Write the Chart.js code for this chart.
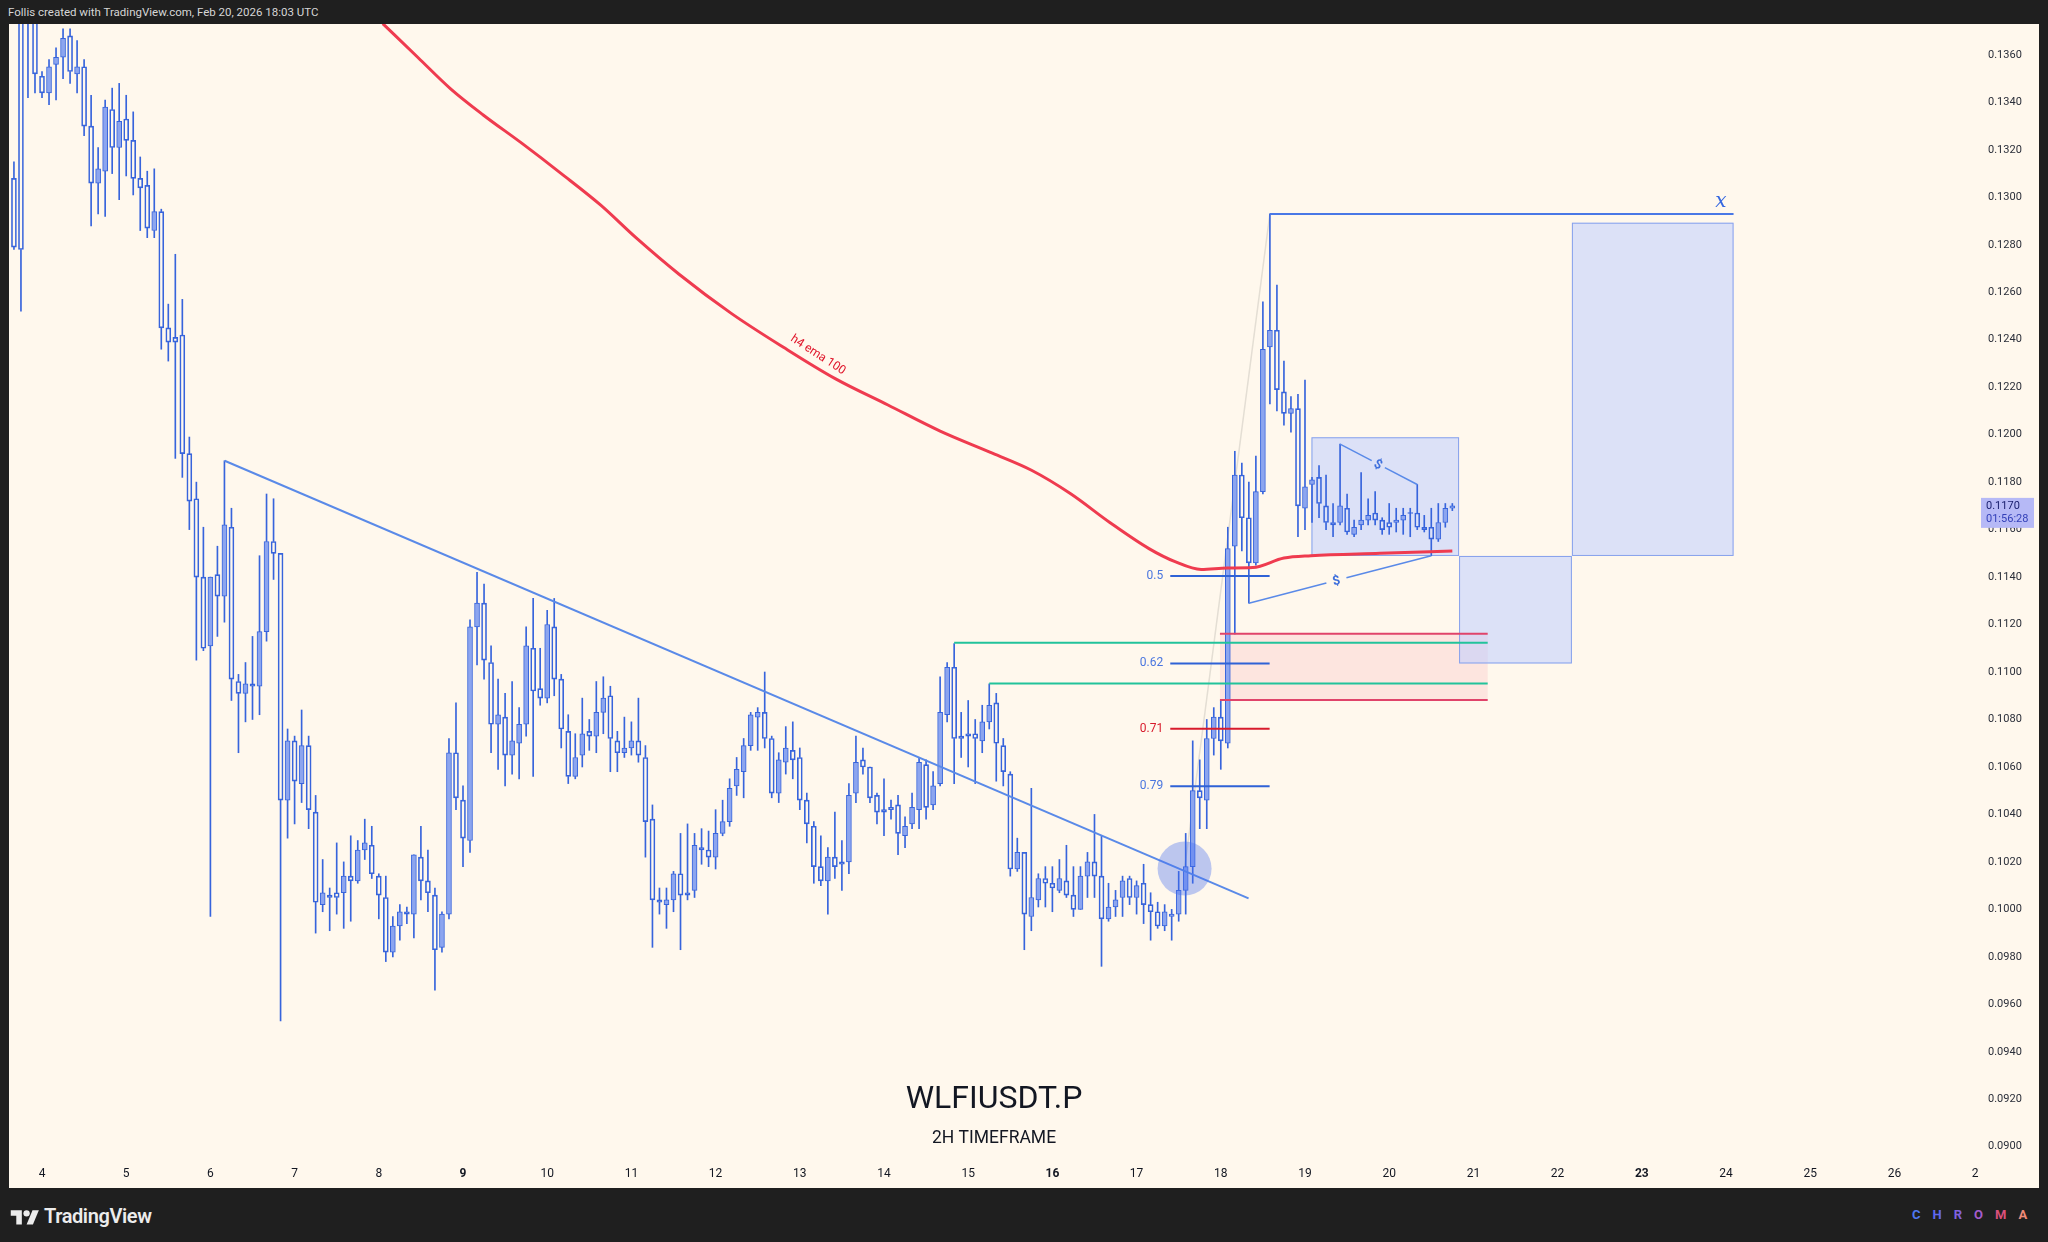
<!DOCTYPE html>
<html>
<head>
<meta charset="utf-8">
<script src="https://cdn.jsdelivr.net/npm/chart.js@4.4.1/dist/chart.umd.min.js"></script>
<style>
  html, body { margin: 0; padding: 0; }
  body { width: 2048px; height: 1242px; background: #1f1f1f; position: relative; overflow: hidden; font-family: Roboto, 'Noto Sans', sans-serif; }
  #hdr { position: absolute; left: 8px; top: 5px; font-size: 11.5px; color: #d6d6d6; }
  #wrap { position: absolute; left: 9px; top: 24px; width: 2030px; height: 1164px; background: #fff8ed; }
  #logo { position: absolute; left: 10px; top: 1204px; display: flex; align-items: center; color: #ececec; font-size: 20px; font-weight: 600; letter-spacing: -0.4px; }
  #logo svg { margin-right: 4px; }
  #chroma { position: absolute; left: 1912px; top: 1207px; font-size: 13px; font-weight: 700; letter-spacing: 12px; }
</style>
</head>
<body>
<div id="hdr">Follis created with TradingView.com, Feb 20, 2026 18:03 UTC</div>
<div id="wrap"><canvas id="chart" width="2030" height="1164"></canvas></div>
<div id="logo">
  <svg width="30" height="19" viewBox="0 0 36 24"><path d="M14 22H7V11H0V4h14v18z" fill="#ececec"/><circle cx="20" cy="8" r="4" fill="#ececec"/><path d="M28 22h-8l7.5-18h8L28 22z" fill="#ececec"/></svg>
  <span>TradingView</span>
</div>
<div id="chroma"><span style="color:#4f78f0">C</span><span style="color:#6169ee">H</span><span style="color:#8062e0">R</span><span style="color:#a45ccc">O</span><span style="color:#d9507a">M</span><span style="color:#ef8a78">A</span></div>

<script>
/* WLFIUSDT.P 2H candles, Feb 3 16:00 -> Feb 20 18:00 UTC */
const START_DAY = 3 + 8 / 12;
const BAR_DAYS  = 1 / 12;

const OPEN = [
  .1308,.1395,.1400,.1385,.1351,.1344,.1356,.1359,.1368,.1352,
  .1355,.1330,.1306,.1311,.1337,.1321,.1333,.1324,.1308,.1305,
  .1286,.1294,.1245,.1241,.1242,.1192,.1173,.1140,.1111,.1141,
  .1132,.1161,.1096,.1091,.1095,.1094,.1117,.1155,.1150,.1046,
  .1071,.1053,.1069,.1041,.1002,.1006,.1007,.1007,.1014,.1012,
  .1025,.1027,.1014,.1005,.0982,.0993,.0999,.0998,.1022,.1012,
  .1006,.0984,.0998,.1066,.1046,.1029,.1119,.1129,.1104,.1078,
  .1081,.1065,.1070,.1078,.1110,.1093,.1089,.1119,.1097,.1075,
  .1056,.1065,.1075,.1073,.1083,.1090,.1071,.1066,.1068,.1071,
  .1064,.1038,.1004,.1002,.1004,.1015,.1007,.1008,.1026,.1025,
  .1022,.1032,.1037,.1052,.1058,.1069,.1081,.1083,.1072,.1049,
  .1062,.1067,.1064,.1046,.1035,.1018,.1012,.1022,.1020,.1020,
  .1049,.1063,.1060,.1048,.1042,.1043,.1044,.1031,.1036,.1042,
  .1061,.1044,.1053,.1082,.1102,.1073,.1074,.1074,.1071,.1079,
  .1087,.1069,.1057,.1017,.1024,.0997,.1004,.1013,.1011,.1008,
  .1012,.1006,.1000,.1014,.1020,.1014,.0996,.1001,.1005,.1013,
  .1005,.1011,.1002,.0999,.0993,.0997,.0998,.1008,.1018,.1050,
  .1046,.1072,.1081,.1070,.1153,.1183,.1165,.1146,.1176,.1237,
  .1244,.1218,.1209,.1211,.1169,.1179,.1182,.1170,.1163,.1163,
  .1169,.1158,.1162,.1164,.1167,.1164,.1163,.1163,.1164,.1167,
  .1167,.1161,.1161,.1156,.1163,.1169
];
const HIGH = [
  .1315,.1400,.1410,.1390,.1353,.1358,.1363,.1371,.1371,.1366,
  .1358,.1343,.1321,.1341,.1346,.1348,.1343,.1336,.1317,.1311,
  .1312,.1295,.1255,.1276,.1257,.1199,.1180,.1161,.1140,.1153,
  .1189,.1169,.1099,.1104,.1115,.1149,.1175,.1173,.1150,.1076,
  .1073,.1084,.1073,.1048,.1021,.1009,.1028,.1020,.1031,.1029,
  .1038,.1035,.1015,.1014,.0997,.1002,.1001,.1023,.1035,.1025,
  .1009,.0999,.1072,.1087,.1052,.1122,.1142,.1137,.1111,.1097,
  .1091,.1096,.1085,.1119,.1131,.1110,.1126,.1131,.1099,.1082,
  .1074,.1089,.1080,.1096,.1098,.1094,.1075,.1081,.1079,.1089,
  .1069,.1044,.1009,.1009,.1016,.1032,.1036,.1032,.1034,.1033,
  .1042,.1046,.1055,.1064,.1072,.1083,.1085,.1100,.1073,.1066,
  .1077,.1079,.1068,.1049,.1037,.1031,.1026,.1041,.1029,.1053,
  .1073,.1068,.1060,.1049,.1055,.1046,.1048,.1039,.1049,.1064,
  .1063,.1058,.1098,.1104,.1112,.1083,.1088,.1080,.1086,.1095,
  .1091,.1072,.1058,.1030,.1024,.1051,.1015,.1018,.1018,.1021,
  .1027,.1018,.1018,.1024,.1040,.1031,.1011,.1008,.1014,.1014,
  .1012,.1019,.1007,.1003,.1002,.1000,.1016,.1032,.1071,.1063,
  .1080,.1085,.1088,.1161,.1193,.1188,.1180,.1191,.1256,.1293,
  .1263,.1231,.1216,.1217,.1223,.1182,.1187,.1183,.1171,.1196,
  .1175,.1164,.1184,.1173,.1176,.1165,.1171,.1169,.1169,.1169,
  .1179,.1166,.1169,.1171,.1171,.1171
];
const LOW = [
  .1278,.1252,.1342,.1344,.1342,.1339,.1341,.1350,.1348,.1344,
  .1326,.1288,.1293,.1292,.1310,.1299,.1309,.1301,.1286,.1283,
  .1283,.1236,.1231,.1190,.1182,.1160,.1105,.1109,.0997,.1115,
  .1121,.1088,.1066,.1079,.1080,.1082,.1113,.1139,.0953,.1030,
  .1036,.1045,.1034,.0990,.0999,.0991,.0998,.0992,.0995,.1011,
  .1021,.1013,.0996,.0978,.0980,.0987,.0994,.0988,.1004,.0999,
  .0966,.0982,.0996,.1042,.1018,.1024,.1103,.1097,.1066,.1059,
  .1052,.1057,.1055,.1073,.1056,.1086,.1087,.1090,.1068,.1053,
  .1055,.1060,.1067,.1066,.1074,.1058,.1058,.1064,.1065,.1062,
  .1022,.0984,.0998,.0992,.0999,.0983,.1004,.1005,.1019,.1018,
  .1017,.1031,.1035,.1048,.1047,.1067,.1067,.1068,.1047,.1045,
  .1057,.1055,.1042,.1028,.1011,.1010,.0998,.1013,.1008,.1015,
  .1045,.1057,.1045,.1036,.1031,.1038,.1023,.1026,.1034,.1034,
  .1038,.1042,.1052,.1079,.1053,.1064,.1060,.1053,.1066,.1076,
  .1054,.1052,.1014,.1016,.0983,.0991,.1001,.1001,.0999,.1007,
  .1005,.0997,.1000,.1005,.1005,.0976,.0995,.0997,.0997,.1002,
  .0998,.0994,.0987,.0992,.0991,.0987,.0995,.0998,.1011,.1034,
  .1034,.1065,.1059,.1068,.1116,.1151,.1129,.1145,.1175,.1213,
  .1210,.1204,.1201,.1157,.1160,.1163,.1165,.1160,.1157,.1162,
  .1158,.1157,.1160,.1162,.1162,.1158,.1158,.1159,.1158,.1157,
  .1160,.1159,.1149,.1155,.1161,.1168
];
const CLOSE = [
  .1279,.1278,.1392,.1352,.1344,.1355,.1359,.1367,.1353,.1355,
  .1330,.1306,.1312,.1338,.1321,.1332,.1324,.1308,.1304,.1287,
  .1294,.1245,.1239,.1239,.1192,.1172,.1140,.1110,.1140,.1132,
  .1162,.1097,.1091,.1095,.1094,.1117,.1155,.1150,.1046,.1071,
  .1054,.1069,.1042,.1003,.1007,.1005,.1005,.1014,.1012,.1025,
  .1028,.1015,.1006,.0982,.0993,.0999,.0998,.1023,.1012,.1007,
  .0983,.0998,.1066,.1047,.1030,.1119,.1129,.1105,.1078,.1082,
  .1065,.1071,.1078,.1111,.1092,.1089,.1120,.1097,.1076,.1056,
  .1064,.1074,.1073,.1083,.1089,.1072,.1066,.1068,.1071,.1065,
  .1037,.1004,.1003,.1004,.1015,.1006,.1006,.1027,.1025,.1022,
  .1032,.1037,.1051,.1059,.1069,.1082,.1083,.1072,.1049,.1063,
  .1068,.1063,.1046,.1036,.1018,.1012,.1022,.1018,.1019,.1048,
  .1062,.1060,.1047,.1041,.1041,.1042,.1032,.1035,.1043,.1062,
  .1043,.1052,.1083,.1102,.1072,.1072,.1073,.1072,.1079,.1086,
  .1070,.1058,.1017,.1024,.0998,.1005,.1013,.1011,.1009,.1013,
  .1006,.1000,.1014,.1020,.1014,.0996,.1001,.1004,.1012,.1005,
  .1010,.1002,.0999,.0993,.0999,.0998,.1008,.1018,.1050,.1047,
  .1072,.1081,.1071,.1152,.1183,.1165,.1146,.1176,.1236,.1244,
  .1219,.1209,.1211,.1170,.1178,.1181,.1171,.1163,.1162,.1170,
  .1159,.1161,.1164,.1166,.1164,.1160,.1161,.1164,.1166,.1167,
  .1161,.1160,.1156,.1163,.1169,.1170
];

/* h4 ema 100 (day, price) */
const EMA_DAY = [8.047, 8.465, 8.853, 9.240, 9.705, 10.171, 10.636, 11.054, 11.566, 12.186, 12.806, 13.426,
                 14.047, 14.667, 15.287, 15.752, 16.217, 16.682, 17.147, 17.457, 17.767, 18.078, 18.38, 18.75, 19.07, 19.89, 20.75];
const EMA_VAL = [.13732, .13589, .13457, .13347, .13226, .13099, .12967, .12830, .12676, .12511, .12368, .12235,
                 .12125, .12015, .11922, .11850, .11751, .11630, .11520, .11465, .11432, .11438, .1144, .1148, .1149, .1150, .1151];

/* axis ticks */
const DAY_TICKS = [4, 5, 6, 7, 8, 9, 10, 11, 12, 13, 14, 15, 16, 17, 18, 19, 20, 21, 22, 23, 24, 25, 26, 27];
const WEEK_START_DAYS = [9, 16, 23];
const PRICE_TICKS = [.0900, .0920, .0940, .0960, .0980, .1000, .1020, .1040, .1060, .1080, .1100, .1120,
                     .1140, .1160, .1180, .1200, .1220, .1240, .1260, .1280, .1300, .1320, .1340, .1360];
const X_MIN = 3.608, X_MAX = 27.005;
const Y_MIN = 0.089651, Y_MAX = 0.137302;

/* drawings (day, price) */
const TREND      = [[6.169, .1189], [18.33, .10046]];
const FIB_NAMES  = ['0.5', '0.62', '0.71', '0.79'];
const FIB_LEVELS = [.11405, .11036, .10761, .10519];
const FIB_SPAN   = [17.40, 18.58];
const ZONE       = { d0: 17.99, d1: 21.17, lo: .10882, hi: .11161 };
const GREEN_LEVELS = [.11123, .10952];
const GREEN_START  = [14.833, 15.25];
const TOP_LINE   = { d0: 18.583, d1: 24.09, p: .1293 };
const BOXES = [
  { d0: 19.077, d1: 20.83, lo: .11489, hi: .11989 },
  { d0: 22.17,  d1: 24.09, lo: .11489, hi: .12893 },
  { d0: 20.83,  d1: 22.17, lo: .11036, hi: .11489 },
];
const DOLLAR_LINES = [
  { a: [19.417, .1196], b: [20.333, .1179], gap: [0.41, 0.58] },
  { a: [18.333, .1129], b: [20.5, .1149],   gap: [0.425, 0.535] },
];
const CIRCLE     = { d: 17.57, p: .10172 };
const GREY_LINE  = [[17.57, .10172], [18.583, .1293]];
const EMA_LABEL  = { d: 13.216, p: .12336, text: 'h4 ema 100' };
const X_LABEL    = { d: 23.94, p: .1293 };
const LAST_PRICE = .1170;
const COUNTDOWN  = '01:56:28';
const SYMBOL = 'WLFIUSDT.P';
const TIMEFRAME = '2H TIMEFRAME';

/* colours */
const PANE_BG = '#fff8ed';
const CANDLE  = '#3764dc';
const UP_FILL = '#8ca5ef';
const TL_BLUE = '#5a8ae8';
const FIB_BLUE = '#2f62d6';
const FIB_RED  = '#d81b2c';
const ZONE_RED = '#e0436a';
const GREEN    = '#22c39b';

const dayOf = i => START_DAY + i * BAR_DAYS;
const MIN_BODY = 0.00004;

const bodies = OPEN.map((o, i) => {
  let lo = Math.min(o, CLOSE[i]), hi = Math.max(o, CLOSE[i]);
  if (hi - lo < MIN_BODY) { lo -= MIN_BODY / 2; hi += MIN_BODY / 2; }
  return { x: dayOf(i), y: [lo, hi] };
});
const upperWicks = OPEN.map((o, i) => ({ x: dayOf(i), y: [Math.max(o, CLOSE[i]), HIGH[i]] }));
const lowerWicks = OPEN.map((o, i) => ({ x: dayOf(i), y: [LOW[i], Math.min(o, CLOSE[i])] }));
const bodyFill = OPEN.map((o, i) => CLOSE[i] > o ? UP_FILL : 'rgba(0,0,0,0)');

const pt = p => ({ x: p[0], y: p[1] });
function lineDs(points, color, width, extra) {
  return Object.assign({ type: 'line', data: points, borderColor: color, borderWidth: width,
    pointRadius: 0, fill: false, tension: 0 }, extra || {});
}
function splitLine(l) {
  const at = t => ({ x: l.a[0] + (l.b[0] - l.a[0]) * t, y: l.a[1] + (l.b[1] - l.a[1]) * t });
  return [[at(0), at(l.gap[0])], [at(l.gap[1]), at(1)]];
}

const lineSets = [
  lineDs(EMA_DAY.map((d, i) => ({ x: d, y: EMA_VAL[i] })), '#ef3b4f', 3, { cubicInterpolationMode: 'monotone' }),
  lineDs(TREND.map(pt), TL_BLUE, 2),
  ...FIB_LEVELS.map((lv, k) => lineDs([{ x: FIB_SPAN[0], y: lv }, { x: FIB_SPAN[1], y: lv }], k === 2 ? FIB_RED : FIB_BLUE, 2)),
  lineDs([{ x: ZONE.d0, y: ZONE.hi }, { x: ZONE.d1, y: ZONE.hi }], ZONE_RED, 2),
  lineDs([{ x: ZONE.d0, y: ZONE.lo }, { x: ZONE.d1, y: ZONE.lo }], ZONE_RED, 2),
  ...GREEN_LEVELS.map((lv, k) => lineDs([{ x: GREEN_START[k], y: lv }, { x: ZONE.d1, y: lv }], GREEN, 2)),
  lineDs([{ x: TOP_LINE.d0, y: TOP_LINE.p }, { x: TOP_LINE.d1, y: TOP_LINE.p }], '#4a78e6', 2),
  ...DOLLAR_LINES.flatMap(l => splitLine(l).map(s => lineDs(s, TL_BLUE, 1.5))),
];

const barBase = { type: 'bar', grouped: false, borderSkipped: false };

/* -------- DRAWINGS PLUGIN -------- */
const drawings = {
  id: 'drawings',
  beforeDatasetsDraw(chart) {
    const { ctx, chartArea: a, scales: { x, y } } = chart;
    ctx.save();
    ctx.beginPath(); ctx.rect(a.left, a.top, a.width, a.height); ctx.clip();

    ctx.fillStyle = '#131722'; ctx.textAlign = 'center'; ctx.textBaseline = 'middle';
    ctx.font = '32px Roboto';
    ctx.fillText(SYMBOL, a.left + a.width / 2, a.bottom - 55);
    ctx.font = '17.5px Roboto';
    ctx.fillText(TIMEFRAME, a.left + a.width / 2, a.bottom - 16);

    const rect = (d0, d1, lo, hi, fill, stroke) => {
      const x0 = x.getPixelForValue(d0), x1 = x.getPixelForValue(d1);
      const y0 = y.getPixelForValue(hi), y1 = y.getPixelForValue(lo);
      ctx.fillStyle = fill; ctx.fillRect(x0, y0, x1 - x0, y1 - y0);
      if (stroke) { ctx.strokeStyle = stroke; ctx.lineWidth = 1; ctx.strokeRect(x0 + 0.5, y0 + 0.5, x1 - x0 - 1, y1 - y0 - 1); }
    };
    rect(ZONE.d0, ZONE.d1, ZONE.lo, ZONE.hi, '#fde5df', null);
    BOXES.forEach(b => rect(b.d0, b.d1, b.lo, b.hi, 'rgba(192,206,255,0.55)', '#87a1ec'));
    ctx.restore();
  },
  afterDatasetsDraw(chart) {
    const { ctx, chartArea: a, scales: { x, y } } = chart;
    ctx.save();
    ctx.beginPath(); ctx.rect(a.left, a.top, a.width, a.height); ctx.clip();

    ctx.fillStyle = 'rgba(70,112,240,0.36)';
    ctx.beginPath();
    ctx.arc(x.getPixelForValue(CIRCLE.d), y.getPixelForValue(CIRCLE.p), 27, 0, Math.PI * 2);
    ctx.fill();

    ctx.font = '12px Roboto'; ctx.textAlign = 'right'; ctx.textBaseline = 'middle';
    FIB_LEVELS.forEach((lv, k) => {
      ctx.fillStyle = k === 2 ? FIB_RED : '#4a76df';
      ctx.fillText(FIB_NAMES[k], x.getPixelForValue(FIB_SPAN[0]) - 7, y.getPixelForValue(lv));
    });

    ctx.save();
    ctx.translate(x.getPixelForValue(EMA_LABEL.d), y.getPixelForValue(EMA_LABEL.p));
    ctx.rotate(33 * Math.PI / 180);
    ctx.fillStyle = '#e0162b'; ctx.font = '12px Roboto'; ctx.textAlign = 'center';
    ctx.fillText(EMA_LABEL.text, 0, 0);
    ctx.restore();

    ctx.fillStyle = '#3668e0'; ctx.font = 'italic 20px "DejaVu Serif", serif';
    ctx.textAlign = 'center'; ctx.textBaseline = 'alphabetic';
    ctx.fillText('x', x.getPixelForValue(X_LABEL.d), y.getPixelForValue(X_LABEL.p) - 7);

    DOLLAR_LINES.forEach(l => {
      const ax = x.getPixelForValue(l.a[0]), ay = y.getPixelForValue(l.a[1]);
      const bx = x.getPixelForValue(l.b[0]), by = y.getPixelForValue(l.b[1]);
      const t = (l.gap[0] + l.gap[1]) / 2;
      ctx.save();
      ctx.translate(ax + (bx - ax) * t, ay + (by - ay) * t);
      ctx.rotate(Math.atan2(by - ay, bx - ax));
      ctx.fillStyle = '#3e6fdc'; ctx.font = 'bold 13px Roboto';
      ctx.textAlign = 'center'; ctx.textBaseline = 'middle';
      ctx.fillText('$', 0, 1);
      ctx.restore();
    });
    ctx.restore();
  },
  afterDraw(chart) {
    const { ctx, chartArea: a, scales: { y } } = chart;
    /* time labels are clipped at the price-scale edge */
    ctx.save();
    ctx.fillStyle = PANE_BG;
    ctx.fillRect(a.right, a.bottom, chart.width - a.right, chart.height - a.bottom);

    const py = y.getPixelForValue(LAST_PRICE);
    ctx.fillStyle = '#b6b9f6';
    ctx.fillRect(a.right + 2, py - 8, 53, 30);
    ctx.font = '11px Roboto'; ctx.textAlign = 'left'; ctx.textBaseline = 'middle';
    ctx.fillStyle = '#1c2170';
    ctx.fillText(LAST_PRICE.toFixed(4), a.right + 7, py);
    ctx.fillStyle = '#3340b8';
    ctx.fillText(COUNTDOWN, a.right + 7, py + 13);
    ctx.restore();
  },
};

const noPad = s => { s.paddingTop = 0; s.paddingBottom = 0; s.paddingLeft = 0; s.paddingRight = 0; };

new Chart(document.getElementById('chart'), {
  type: 'bar',
  data: {
    datasets: [
      ...lineSets,
      Object.assign({ data: bodies, backgroundColor: bodyFill, borderColor: CANDLE, borderWidth: 1, barThickness: 5 }, barBase),
      Object.assign({ data: upperWicks, backgroundColor: CANDLE, borderWidth: 0, barThickness: 1 }, barBase),
      Object.assign({ data: lowerWicks, backgroundColor: CANDLE, borderWidth: 0, barThickness: 1 }, barBase),
      lineDs(GREY_LINE.map(pt), '#e4ded4', 1.5),
    ],
  },
  options: {
    responsive: false,
    maintainAspectRatio: false,
    animation: false,
    layout: { padding: 0 },
    plugins: { legend: { display: false }, tooltip: { enabled: false } },
    scales: {
      x: {
        type: 'linear', min: X_MIN, max: X_MAX, offset: false,
        grid: { display: false, drawTicks: false, offset: false }, border: { display: false },
        afterBuildTicks: s => { s.ticks = DAY_TICKS.map(v => ({ value: v })); },
        afterFit: s => { s.height = 33; noPad(s); },
        ticks: {
          padding: 12, maxRotation: 0, autoSkip: false, color: '#131722',
          font: ctx => ({ family: 'Roboto', size: 12, weight: ctx.tick && WEEK_START_DAYS.includes(ctx.tick.value) ? 'bold' : 'normal' }),
          callback: v => String(v),
        },
      },
      y: {
        position: 'right', min: Y_MIN, max: Y_MAX,
        grid: { display: false, drawTicks: false }, border: { display: false },
        afterBuildTicks: s => { s.ticks = PRICE_TICKS.map(v => ({ value: v })); },
        afterFit: s => { s.width = 60; noPad(s); },
        ticks: { padding: 9, autoSkip: false, color: '#2a2e39', font: { family: 'Roboto', size: 11 }, callback: v => v.toFixed(4) },
      },
    },
  },
  plugins: [drawings],
});
</script>
</body>
</html>
